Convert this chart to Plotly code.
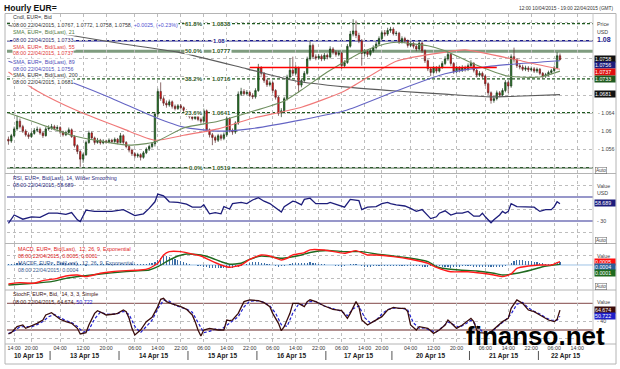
import plotly.graph_objects as go
from datetime import datetime, timedelta

# ---------------- time base (hourly bars, weekend removed) ----------------
sessions = [("2015-04-10 12:00", "2015-04-10 22:00"),
            ("2015-04-12 21:00", "2015-04-17 22:00"),
            ("2015-04-19 21:00", "2015-04-22 19:00")]
bar_times = []
for a, b in sessions:
    t = datetime.strptime(a, "%Y-%m-%d %H:%M")
    e = datetime.strptime(b, "%Y-%m-%d %H:%M")
    while t <= e:
        bar_times.append(t)
        t += timedelta(hours=1)
pos = {t.strftime("%m-%d %H:%M"): i for i, t in enumerate(bar_times)}

tick_times = ["04-10 14:00", "04-10 20:00", "04-13 04:00", "04-13 12:00", "04-13 20:00",
              "04-14 06:00", "04-14 14:00", "04-14 22:00", "04-15 06:00", "04-15 14:00",
              "04-15 22:00", "04-16 06:00", "04-16 14:00", "04-16 22:00", "04-17 06:00",
              "04-17 14:00", "04-17 20:00", "04-20 04:00", "04-20 12:00", "04-20 20:00",
              "04-21 06:00", "04-21 14:00", "04-21 22:00", "04-22 06:00", "04-22 14:00"]
day_starts = ["04-13 00:00", "04-14 00:00", "04-15 00:00", "04-16 00:00", "04-17 00:00",
              "04-19 21:00", "04-21 00:00", "04-22 00:00"]
day_labels = ["10 Apr 15", "13 Apr 15", "14 Apr 15", "15 Apr 15", "16 Apr 15",
              "17 Apr 15", "20 Apr 15", "21 Apr 15", "22 Apr 15"]

# ---------------- price candles (EUR=, hourly) ----------------
open_ = [1.0582, 1.0578, 1.0590, 1.0605, 1.0622, 1.0610, 1.0600, 1.0592, 1.0588, 1.0595,
         1.0602, 1.0604, 1.0596, 1.0590, 1.0605, 1.0607, 1.0610, 1.0606, 1.0608, 1.0598,
         1.0592, 1.0597, 1.0603, 1.0588, 1.0568, 1.0555, 1.0538, 1.0548, 1.0575, 1.0596,
         1.0585, 1.0575, 1.0580, 1.0574, 1.0578, 1.0576, 1.0580, 1.0577, 1.0582, 1.0575,
         1.0590, 1.0575, 1.0566, 1.0558, 1.0550, 1.0545, 1.0548, 1.0542, 1.0552, 1.0560,
         1.0566, 1.0572, 1.0638, 1.0688, 1.0672, 1.0662, 1.0658, 1.0665, 1.0655, 1.0650,
         1.0656, 1.0652, 1.0646, 1.0636, 1.0632, 1.0628, 1.0633, 1.0626, 1.0622, 1.0645,
         1.0603, 1.0592, 1.0586, 1.0580, 1.0590, 1.0584, 1.0592, 1.0628, 1.0602, 1.0598,
         1.0618, 1.0682, 1.0688, 1.0683, 1.0686, 1.0679, 1.0676, 1.0690, 1.0740, 1.0728,
         1.0712, 1.0703, 1.0707, 1.0690, 1.0675, 1.0640, 1.0645, 1.0672, 1.0720, 1.0735,
         1.0728, 1.0740, 1.0702, 1.0712, 1.0728, 1.0760, 1.0790, 1.0765, 1.0762, 1.0766,
         1.0760, 1.0768, 1.0764, 1.0782, 1.0775, 1.0770, 1.0773, 1.0745, 1.0752, 1.0788,
         1.0815, 1.0822, 1.0812, 1.0800, 1.0772, 1.0776, 1.0770, 1.0778, 1.0785, 1.0793,
         1.0805, 1.0818, 1.0815, 1.0823, 1.0826, 1.0816, 1.0817, 1.0798, 1.0805, 1.0800,
         1.0790, 1.0794, 1.0788, 1.0782, 1.0795, 1.0778, 1.0756, 1.0738, 1.0730, 1.0740,
         1.0733, 1.0742, 1.0750, 1.0760, 1.0770, 1.0750, 1.0732, 1.0740, 1.0735, 1.0741,
         1.0737, 1.0745, 1.0750, 1.0735, 1.0724, 1.0728, 1.0722, 1.0705, 1.0685, 1.0668,
         1.0672, 1.0685, 1.0680, 1.0690, 1.0708, 1.0700, 1.0765, 1.0758, 1.0745, 1.0742,
         1.0737, 1.0740, 1.0736, 1.0738, 1.0733, 1.0737, 1.0728, 1.0722, 1.0725, 1.0730,
         1.0734, 1.0740, 1.0767]
high = [1.0588, 1.0594, 1.0610, 1.0634, 1.0628, 1.0614, 1.0604, 1.0597, 1.0599, 1.0607,
        1.0610, 1.0608, 1.0600, 1.0609, 1.0613, 1.0616, 1.0614, 1.0613, 1.0611, 1.0601,
        1.0601, 1.0608, 1.0606, 1.0591, 1.0571, 1.0558, 1.0552, 1.0579, 1.0601, 1.0599,
        1.0588, 1.0585, 1.0583, 1.0582, 1.0581, 1.0584, 1.0583, 1.0586, 1.0585, 1.0596,
        1.0593, 1.0578, 1.0569, 1.0561, 1.0553, 1.0552, 1.0551, 1.0556, 1.0564, 1.0570,
        1.0576, 1.0642, 1.0694, 1.0708, 1.0677, 1.0668, 1.0670, 1.0668, 1.0659, 1.0660,
        1.0660, 1.0655, 1.0649, 1.0640, 1.0636, 1.0637, 1.0636, 1.0630, 1.0650, 1.0648,
        1.0606, 1.0596, 1.0590, 1.0594, 1.0594, 1.0597, 1.0634, 1.0631, 1.0606, 1.0622,
        1.0688, 1.0696, 1.0693, 1.0691, 1.0690, 1.0684, 1.0695, 1.0749, 1.0744, 1.0731,
        1.0716, 1.0712, 1.0710, 1.0693, 1.0678, 1.0651, 1.0676, 1.0725, 1.0762, 1.0765,
        1.0746, 1.0743, 1.0717, 1.0733, 1.0765, 1.0799, 1.0794, 1.0770, 1.0771, 1.0770,
        1.0773, 1.0772, 1.0788, 1.0786, 1.0779, 1.0778, 1.0776, 1.0757, 1.0793, 1.0822,
        1.0848, 1.0845, 1.0818, 1.0804, 1.0782, 1.0780, 1.0783, 1.0790, 1.0798, 1.0810,
        1.0823, 1.0824, 1.0829, 1.0831, 1.0830, 1.0822, 1.0820, 1.0810, 1.0809, 1.0803,
        1.0799, 1.0798, 1.0792, 1.0800, 1.0798, 1.0781, 1.0759, 1.0742, 1.0745, 1.0744,
        1.0747, 1.0755, 1.0766, 1.0776, 1.0773, 1.0753, 1.0745, 1.0744, 1.0746, 1.0745,
        1.0750, 1.0757, 1.0753, 1.0738, 1.0733, 1.0732, 1.0725, 1.0708, 1.0688, 1.0678,
        1.0690, 1.0689, 1.0695, 1.0713, 1.0712, 1.0770, 1.0785, 1.0762, 1.0750, 1.0747,
        1.0745, 1.0744, 1.0743, 1.0742, 1.0741, 1.0740, 1.0731, 1.0729, 1.0734, 1.0738,
        1.0745, 1.0775, 1.0772]
low = [1.0570, 1.0574, 1.0586, 1.0601, 1.0606, 1.0596, 1.0588, 1.0583, 1.0585, 1.0592,
       1.0598, 1.0592, 1.0585, 1.0588, 1.0601, 1.0603, 1.0602, 1.0603, 1.0594, 1.0588,
       1.0589, 1.0594, 1.0585, 1.0564, 1.0549, 1.0521, 1.0530, 1.0545, 1.0572, 1.0581,
       1.0570, 1.0572, 1.0570, 1.0571, 1.0572, 1.0573, 1.0573, 1.0574, 1.0571, 1.0573,
       1.0571, 1.0562, 1.0553, 1.0545, 1.0540, 1.0541, 1.0535, 1.0539, 1.0549, 1.0556,
       1.0562, 1.0566, 1.0632, 1.0667, 1.0656, 1.0652, 1.0654, 1.0650, 1.0646, 1.0647,
       1.0648, 1.0642, 1.0632, 1.0628, 1.0624, 1.0625, 1.0622, 1.0617, 1.0619, 1.0598,
       1.0586, 1.0569, 1.0574, 1.0576, 1.0579, 1.0580, 1.0588, 1.0597, 1.0592, 1.0594,
       1.0614, 1.0678, 1.0679, 1.0679, 1.0675, 1.0671, 1.0672, 1.0687, 1.0723, 1.0707,
       1.0698, 1.0699, 1.0685, 1.0670, 1.0634, 1.0631, 1.0641, 1.0668, 1.0716, 1.0722,
       1.0724, 1.0686, 1.0697, 1.0708, 1.0725, 1.0756, 1.0760, 1.0757, 1.0758, 1.0755,
       1.0756, 1.0759, 1.0761, 1.0770, 1.0765, 1.0766, 1.0738, 1.0740, 1.0749, 1.0785,
       1.0810, 1.0806, 1.0795, 1.0745, 1.0766, 1.0764, 1.0766, 1.0774, 1.0781, 1.0789,
       1.0801, 1.0810, 1.0811, 1.0818, 1.0812, 1.0811, 1.0793, 1.0794, 1.0795, 1.0785,
       1.0786, 1.0783, 1.0777, 1.0779, 1.0773, 1.0751, 1.0733, 1.0722, 1.0727, 1.0728,
       1.0730, 1.0738, 1.0746, 1.0756, 1.0745, 1.0727, 1.0728, 1.0730, 1.0731, 1.0732,
       1.0733, 1.0741, 1.0730, 1.0719, 1.0720, 1.0717, 1.0700, 1.0680, 1.0661, 1.0663,
       1.0668, 1.0675, 1.0676, 1.0686, 1.0684, 1.0696, 1.0752, 1.0740, 1.0737, 1.0733,
       1.0733, 1.0731, 1.0732, 1.0729, 1.0729, 1.0724, 1.0717, 1.0718, 1.0721, 1.0726,
       1.0731, 1.0737, 1.0758]
close = [1.0578, 1.0590, 1.0605, 1.0622, 1.0610, 1.0600, 1.0592, 1.0588, 1.0595, 1.0602,
         1.0604, 1.0596, 1.0590, 1.0605, 1.0607, 1.0610, 1.0606, 1.0608, 1.0598, 1.0592,
         1.0597, 1.0603, 1.0588, 1.0568, 1.0555, 1.0538, 1.0548, 1.0575, 1.0596, 1.0585,
         1.0575, 1.0580, 1.0574, 1.0578, 1.0576, 1.0580, 1.0577, 1.0582, 1.0575, 1.0590,
         1.0575, 1.0566, 1.0558, 1.0550, 1.0545, 1.0548, 1.0542, 1.0552, 1.0560, 1.0566,
         1.0572, 1.0638, 1.0688, 1.0672, 1.0662, 1.0658, 1.0665, 1.0655, 1.0650, 1.0656,
         1.0652, 1.0646, 1.0636, 1.0632, 1.0628, 1.0633, 1.0626, 1.0622, 1.0645, 1.0603,
         1.0592, 1.0586, 1.0580, 1.0590, 1.0584, 1.0592, 1.0628, 1.0602, 1.0598, 1.0618,
         1.0682, 1.0688, 1.0683, 1.0686, 1.0679, 1.0676, 1.0690, 1.0740, 1.0728, 1.0712,
         1.0703, 1.0707, 1.0690, 1.0675, 1.0640, 1.0645, 1.0672, 1.0720, 1.0735, 1.0728,
         1.0740, 1.0702, 1.0712, 1.0728, 1.0760, 1.0790, 1.0765, 1.0762, 1.0766, 1.0760,
         1.0768, 1.0764, 1.0782, 1.0775, 1.0770, 1.0773, 1.0745, 1.0752, 1.0788, 1.0815,
         1.0822, 1.0812, 1.0800, 1.0772, 1.0776, 1.0770, 1.0778, 1.0785, 1.0793, 1.0805,
         1.0818, 1.0815, 1.0823, 1.0826, 1.0816, 1.0817, 1.0798, 1.0805, 1.0800, 1.0790,
         1.0794, 1.0788, 1.0782, 1.0795, 1.0778, 1.0756, 1.0738, 1.0730, 1.0740, 1.0733,
         1.0742, 1.0750, 1.0760, 1.0770, 1.0750, 1.0732, 1.0740, 1.0735, 1.0741, 1.0737,
         1.0745, 1.0750, 1.0735, 1.0724, 1.0728, 1.0722, 1.0705, 1.0685, 1.0668, 1.0672,
         1.0685, 1.0680, 1.0690, 1.0708, 1.0700, 1.0765, 1.0758, 1.0745, 1.0742, 1.0737,
         1.0740, 1.0736, 1.0738, 1.0733, 1.0737, 1.0728, 1.0722, 1.0725, 1.0730, 1.0734,
         1.0740, 1.0767, 1.0758]

# ---------------- moving averages (read at sample bars) ----------------
sma21_bars = [0, 10, 22, 32, 42, 51, 61, 73, 84, 96, 102, 111, 123, 131, 135, 146, 152, 162, 174, 185, 192]
sma21 = [1.0640, 1.0618, 1.0591, 1.0578, 1.0569, 1.0576, 1.0607, 1.0622, 1.0642, 1.0667, 1.0691,
         1.0731, 1.0775, 1.0793, 1.0797, 1.0789, 1.0778, 1.0749, 1.0722, 1.0720, 1.0733]
sma55_bars = [0, 10, 24, 40, 51, 61, 73, 84, 102, 117, 135, 152, 159, 179, 192]
sma55 = [1.0731, 1.0689, 1.0645, 1.0605, 1.0580, 1.0591, 1.0605, 1.0627, 1.0653, 1.0689,
         1.0755, 1.0775, 1.0780, 1.0755, 1.0737]
sma89_bars = [0, 16, 34, 51, 61, 73, 84, 102, 117, 135, 152, 168, 192]
sma89 = [1.0755, 1.0722, 1.0678, 1.0631, 1.0609, 1.0600, 1.0605, 1.0625, 1.0645, 1.0689,
         1.0727, 1.0744, 1.0756]
sma200_bars = [0, 21, 39, 59, 83, 100, 117, 135, 152, 168, 179, 192]
sma200 = [1.0834, 1.0813, 1.0794, 1.0775, 1.0738, 1.0711, 1.0698, 1.0689, 1.0682, 1.0676,
          1.0678, 1.0681]

fib_levels = [1.0838, 1.0777, 1.0716, 1.0641, 1.0519]
fib_pcts = ["61.8%", "50.0%", "38.2%", "23.6%", "0.0%"]
round_level = 1.08
red_level = 1.0741
red_span = [84, 170]
price_ticks = [1.052, 1.056, 1.060, 1.064, 1.068, 1.072, 1.076, 1.080, 1.084]
price_tick_text = ["", "1.056", "1.06", "1.064", "", "", "", "", ""]

# ---------------- RSI (14, Wilder) ----------------
rsi_bars = [0, 2, 5, 8, 11, 14, 17, 20, 22, 24, 25, 27, 30, 33, 36, 40, 42, 44, 47, 49,
            51, 52, 54, 56, 59, 62, 64, 67, 68, 70, 72, 74, 75, 77, 78, 81, 83, 85, 87, 89,
            91, 93, 95, 96, 99, 100, 102, 103, 105, 107, 111, 112, 114, 117, 119, 121, 122, 123, 125, 128,
            130, 132, 133, 135, 138, 140, 141, 142, 144, 146, 147, 149, 150, 152, 154, 156, 158, 160, 162, 164,
            165, 166, 167, 168, 169, 171, 172, 173, 174, 175, 177, 180, 183, 185, 187, 189, 190, 191, 192]
rsi_vals = [26, 40, 33, 37, 36, 43, 43, 41, 44, 32, 29, 48, 46, 46, 46, 49, 44, 39, 42, 51,
            62, 75, 72, 62, 61, 58, 53, 53, 57, 42, 44, 42, 54, 50, 59, 61, 59, 65, 69, 63,
            59, 52, 45, 54, 63, 62, 57, 66, 68, 59, 59, 61, 58, 53, 66, 65, 64, 49, 53, 54,
            59, 61, 59, 57, 55, 51, 48, 46, 49, 40, 34, 37, 43, 47, 40, 43, 43, 46, 38, 38,
            43, 37, 32, 27, 32, 40, 46, 43, 46, 59, 54, 53, 53, 46, 49, 49, 54, 62, 58.7]

# ---------------- MACD (12, 26, 9) in units of 1e-4 ----------------
macd_bars = [0, 4, 9, 12, 17, 20, 24, 27, 32, 36, 41, 46, 49, 52, 54, 56, 60, 63, 67, 70,
             74, 77, 81, 84, 88, 91, 95, 97, 99, 103, 105, 110, 117, 121, 125, 128, 134, 140, 146, 149,
             154, 160, 165, 169, 172, 175, 177, 181, 185, 189, 191, 192]
macd_e4 = [-28.8, -26.8, -27.7, -23.8, -20.2, -16.7, -15.2, -17.7, -12.6, -10.2,
           -8.6, -7.6, -5.0, 2.6, 15.2, 20.2, 20.2, 17.7, 13.6, 7.6,
           0.0, -3.5, 0.0, 8.6, 15.2, 13.6, 7.6, 10.2, 15.2, 18.6,
           23.0, 22.7, 17.7, 21.7, 15.2, 15.2, 12.6, 8.6, 2.6, -3.5,
           -10.2, -10.2, -12.6, -15.2, -17.7, -13.6, -5.0, -1.5, 0.0, 0.0, 3.5, 5.0]
signal_bars = [0, 4, 9, 15, 20, 26, 32, 38, 44, 49, 52, 55, 59, 62, 67, 70, 74, 77, 81, 84,
               88, 91, 95, 98, 102, 105, 111, 117, 123, 128, 134, 140, 146, 149, 151, 157, 163, 169, 172, 177,
               182, 186, 192]
signal_e4 = [-30.3, -29.2, -27.7, -25.3, -20.2, -16.7, -13.6, -11.1, -9.1, -7.6,
             -2.6, 5.0, 13.6, 16.7, 15.2, 11.7, 5.0, 1.1, 2.6, 8.6,
             13.6, 12.6, 10.2, 11.7, 15.2, 19.0, 22.0, 20.2, 20.2, 16.7,
             13.6, 10.2, 5.0, -2.6, -5.0, -7.6, -9.1, -12.6, -15.2, -12.6,
             -7.6, -2.6, 1.0]
hist_e4 = [1.5, 2, 2.2, 2.4, 2.4, 2, 1.5, 1, 0.5, 0.2,
           0.5, 1, 1.3, 1.5, 1.5, 1.6, 1.8, 2, 2.3, 2.8,
           3.4, 3.5, 3.4, 3.2, 3, 1.5, 0, -1, -0.5, 0,
           0.5, 0.8, 1, 1.1, 1.2, 1.3, 1.3, 1.3, 1.4, 1.6,
           1.5, 1.4, 1.2, 1, 0.9, 0.8, 0.8, 1.2, 1.8, 2.6,
           3, 5, 8, 11, 13, 13, 12, 10, 8.5, 7,
           5.7, 4, 2.5, 1.2, 0.5, -0.3, -1, -1.6, -2.5, -3.3,
           -4, -4.5, -5, -5.2, -5, -5, -4.8, -4.6, -4, -3.5,
           -2.6, -1, 0.5, 2, 3, 4, 4.5, 4.5, 3.5, 2.5,
           1.5, 1, 0, -1.5, -2.6, -2, -0.8, 0.5, 1.8, 2.7,
           3, 3, 3, 3.2, 3.6, 4, 3.5, 3, 2.2, 1.5,
           1, 0.5, 0, -0.5, -1.2, -2, -2.5, -2.2, -0.5, 1,
           1.5, 1.5, 0, -2, -3.5, -3.8, -3, -2, -1.5, -1.2,
           -1, -0.8, -0.8, -1, -1, -1, -1.2, -1.4, -1.5, -1.6,
           -1.6, -1.8, -2, -2.2, -2.4, -2.4, -2.4, -2, -1.5, -1,
           -1.5, -2.5, -3.2, -3.8, -4, -3.6, -3, -2.5, -2.2, -2,
           -2, -2.2, -2.4, -2.6, -2.6, -2.6, -2.6, -2.6, -2.6, -2.6,
           -2.6, -2.6, -2.5, -1.5, 0.4, 3, 5.5, 7.6, 7.5, 7,
           6.8, 6.5, 5.5, 4.5, 4, 3.5, 2.8, 2, 1.5, 1,
           1.8, 3, 4]

# ---------------- Fast stochastic (14, 3, 3) ----------------
k_bars = [0, 1, 3, 5, 6, 8, 10, 12, 13, 15, 17, 18, 20, 22, 24, 25, 27, 28, 30, 31,
          33, 34, 37, 38, 40, 41, 42, 43, 44, 46, 48, 50, 52, 53, 54, 55, 57, 60, 62, 64,
          65, 66, 67, 68, 70, 73, 75, 76, 77, 78, 80, 82, 84, 87, 89, 91, 92, 94, 95, 96,
          98, 99, 101, 103, 104, 105, 107, 110, 113, 116, 118, 119, 121, 122, 123, 125, 127, 130, 132, 134,
          136, 138, 139, 140, 142, 143, 146, 148, 150, 152, 153, 155, 156, 158, 161, 162, 163, 164, 167, 168,
          170, 172, 174, 175, 177, 179, 181, 183, 185, 188, 190, 191, 192]
k_vals = [11, 14, 27.5, 31.3, 23.8, 29, 35, 42.5, 53.8, 59, 48.6, 44.1, 38.8, 35, 23.8, 11, 14, 31.3, 57.5, 63.5,
          57.5, 53.8, 56, 57.5, 65, 61.3, 46.3, 23.8, 8.7, 20, 38.8, 48.6, 72.5, 89, 91.3, 83.8, 78.6, 72.5, 66.6, 53.8,
          38.8, 20, 6.5, 20, 23.8, 20, 20, 42.5, 41, 42.5, 57.5, 83.8, 87.6, 86, 81.5, 72.5, 57.5, 35, 18.5, 27.5,
          57.5, 80, 80, 72.5, 83.8, 88, 83.8, 74, 66.6, 63.5, 46.3, 57.5, 83.8, 72.5, 42.5, 31.3, 38.8, 50, 65, 71,
          68.8, 68.8, 61.3, 31.3, 20, 27.5, 23.8, 12.5, 20, 31.3, 42.5, 31.3, 23.8, 31.3, 46.3, 38.8, 20, 14, 12.5, 16.3,
          27.5, 38.8, 46.3, 68.8, 87.6, 80, 65, 61.3, 53.8, 42.5, 38.8, 44, 64.7]
d_bars = [0, 2, 4, 6, 8, 10, 12, 14, 16, 18, 20, 22, 24, 26, 28, 30, 32, 34, 36, 38,
          40, 42, 44, 46, 48, 50, 52, 54, 56, 58, 60, 62, 64, 66, 68, 70, 72, 74, 76, 78,
          80, 82, 84, 87, 89, 91, 93, 95, 97, 99, 101, 103, 105, 107, 110, 113, 116, 118, 120, 122,
          124, 126, 128, 130, 132, 134, 137, 139, 141, 143, 145, 147, 149, 151, 153, 155, 157, 159, 161, 163,
          165, 167, 169, 171, 173, 175, 177, 179, 181, 183, 185, 187, 189, 191, 192]
d_vals = [12, 18, 27, 28, 27, 32, 39, 50, 55, 48, 41, 37, 28, 15, 20, 45, 60, 56, 55, 57,
          62, 55, 28, 14, 28, 42, 68, 87, 85, 76, 71, 67, 60, 38, 14, 17, 22, 21, 30, 40,
          50, 72, 85, 86, 82, 74, 58, 32, 28, 58, 78, 76, 84, 84, 74, 68, 62, 52, 68, 74,
          48, 36, 42, 56, 66, 69, 69, 65, 36, 24, 25, 18, 16, 26, 38, 32, 26, 33, 42, 30,
          16, 13, 20, 32, 42, 56, 78, 82, 70, 62, 56, 48, 42, 42, 50.7]

assert len(open_) == len(high) == len(low) == len(close) == len(hist_e4)
assert len(rsi_bars) == len(rsi_vals) and len(k_bars) == len(k_vals) and len(d_bars) == len(d_vals)
assert len(macd_bars) == len(macd_e4) and len(signal_bars) == len(signal_e4)

bars = list(range(len(close)))
NB = len(bar_times)
XR = [-0.5, NB - 0.5]
FONT = "Liberation Sans, Arial, sans-serif"

# ---------------- layout geometry (pixel -> paper) ----------------
TOP, BOT, LEFT, RIGHT = 14, 344, 7, 593
def py(y):
    return (BOT - y) / (BOT - TOP)
def px(x):
    return (x - LEFT) / (RIGHT - LEFT)

fig = go.Figure()

# price panel
fig.add_trace(go.Candlestick(
    x=bars, open=open_, high=high, low=low, close=close, xaxis="x", yaxis="y",
    increasing=dict(line=dict(color="#1b3a1b", width=0.7), fillcolor="#1f7f1f"),
    decreasing=dict(line=dict(color="#5a2a2a", width=0.7), fillcolor="#ff1010"),
    whiskerwidth=0, hoverinfo="skip"))
for xs, ys, col in [(sma200_bars, sma200, "#5c5c5c"), (sma89_bars, sma89, "#6464c4"),
                    (sma55_bars, sma55, "#f07878"), (sma21_bars, sma21, "#6f8f5f")]:
    fig.add_trace(go.Scatter(x=xs, y=ys, mode="lines", xaxis="x", yaxis="y",
                             line=dict(color=col, width=1.1, shape="spline", smoothing=0.6),
                             hoverinfo="skip"))

# RSI panel
fig.add_trace(go.Scatter(x=rsi_bars, y=rsi_vals, mode="lines", xaxis="x2", yaxis="y2",
                         line=dict(color="#1c1c7a", width=1.3), hoverinfo="skip"))
# MACD panel
fig.add_trace(go.Bar(x=bars, y=[h * 1e-4 for h in hist_e4], xaxis="x3", yaxis="y3",
                     marker=dict(color="#3c6ea6", line=dict(width=0)), width=0.4, hoverinfo="skip"))
fig.add_trace(go.Scatter(x=signal_bars, y=[v * 1e-4 for v in signal_e4], mode="lines", xaxis="x3", yaxis="y3",
                         line=dict(color="#1f6a1f", width=1.4, shape="spline", smoothing=0.5), hoverinfo="skip"))
fig.add_trace(go.Scatter(x=macd_bars, y=[v * 1e-4 for v in macd_e4], mode="lines", xaxis="x3", yaxis="y3",
                         line=dict(color="#ff1a1a", width=1.4, shape="spline", smoothing=0.5), hoverinfo="skip"))
# Stochastic panel
fig.add_trace(go.Scatter(x=d_bars, y=d_vals, mode="lines", xaxis="x4", yaxis="y4",
                         line=dict(color="#2020d0", width=1.2, dash="3px,2px"), hoverinfo="skip"))
fig.add_trace(go.Scatter(x=k_bars, y=k_vals, mode="lines", xaxis="x4", yaxis="y4",
                         line=dict(color="#3a0c0c", width=1.3), hoverinfo="skip"))

tickvals = [pos[t] for t in tick_times]
ticktext = [t[-5:] for t in tick_times]
grid = dict(showgrid=True, gridcolor="#bdbdbd", griddash="dot", gridwidth=1, zeroline=False,
            showline=False, ticks="", fixedrange=True)
xcommon = dict(range=XR, tickvals=tickvals, ticktext=ticktext, domain=[0, 1], **grid)
fig.update_layout(
    xaxis=dict(anchor="y", showticklabels=False, rangeslider=dict(visible=False), **xcommon),
    xaxis2=dict(anchor="y2", showticklabels=False, **xcommon),
    xaxis3=dict(anchor="y3", showticklabels=False, **xcommon),
    xaxis4=dict(anchor="y4", showticklabels=True, tickfont=dict(size=5.3, color="#333"), **xcommon),
    yaxis=dict(domain=[py(173), 1], range=[1.05073, 1.08595], tickvals=price_ticks,
               showticklabels=False, **grid),
    yaxis2=dict(domain=[py(243), py(175)], range=[-6.7, 106.7], tickvals=[10, 50, 90],
                showticklabels=False, **grid),
    yaxis3=dict(domain=[py(290), py(244)], range=[-0.00379, 0.00318], tickvals=[-0.002, 0.0015],
                showticklabels=False, **grid),
    yaxis4=dict(domain=[0, py(291)], range=[-11.5, 107.8], tickvals=[0, 40],
                showticklabels=False, **grid),
    width=620, height=369, margin=dict(l=LEFT, r=620 - RIGHT, t=TOP, b=369 - BOT),
    paper_bgcolor="white", plot_bgcolor="white", showlegend=False,
    font=dict(family=FONT, size=5.3, color="#333"), bargap=0,
)

shapes = []
# fibonacci & levels
fib_styles = [dict(color="#1f5a1f", width=1.2, dash="3px,2px"),
              dict(color="#7f9c7f", width=3.2),
              dict(color="#1f5a1f", width=1.2, dash="3px,2px"),
              dict(color="#1f5a1f", width=1.2, dash="3px,2px"),
              dict(color="#2e5a2e", width=1.6)]
for lv, st in zip(fib_levels, fib_styles):
    shapes.append(dict(type="line", xref="paper", yref="y", x0=0, x1=1, y0=lv, y1=lv, line=st, layer="below"))
shapes.append(dict(type="line", xref="paper", yref="y", x0=0, x1=1, y0=round_level, y1=round_level,
                   line=dict(color="#1c1c8c", width=1.5), layer="below"))
shapes.append(dict(type="line", xref="x", yref="y", x0=red_span[0], x1=red_span[1], y0=red_level, y1=red_level,
                   line=dict(color="#ff0000", width=1.5)))
# indicator guide lines
for v in (70, 30):
    shapes.append(dict(type="line", xref="paper", yref="y2", x0=0, x1=1, y0=v, y1=v,
                       line=dict(color="#7474b8", width=1.4), layer="below"))
for v in (80, 20):
    shapes.append(dict(type="line", xref="paper", yref="y4", x0=0, x1=1, y0=v, y1=v,
                       line=dict(color="#9a6c6c", width=1.4), layer="below"))
shapes.append(dict(type="line", xref="paper", yref="y3", x0=0, x1=1, y0=0, y1=0,
                   line=dict(color="#9fc3e6", width=1), layer="below"))
# frame and panel separators
XL, XRp = px(5), px(616)
for yy in (13.5, 173.5, 243.5, 290, 344):
    shapes.append(dict(type="line", xref="paper", yref="paper", x0=XL, x1=XRp, y0=py(yy), y1=py(yy),
                       line=dict(color="#b4b4b4", width=1)))
shapes.append(dict(type="line", xref="paper", yref="paper", x0=XL, x1=XL, y0=py(364), y1=py(13.5),
                   line=dict(color="#b4b4b4", width=1)))
shapes.append(dict(type="line", xref="paper", yref="paper", x0=XRp, x1=XRp, y0=py(364), y1=py(13.5),
                   line=dict(color="#b4b4b4", width=1)))
shapes.append(dict(type="line", xref="paper", yref="paper", x0=1, x1=1, y0=py(344), y1=py(13.5),
                   line=dict(color="#c8c8c8", width=1)))
shapes.append(dict(type="line", xref="paper", yref="paper", x0=XL, x1=XRp, y0=py(364), y1=py(364),
                   line=dict(color="#b4b4b4", width=1)))
# day separators
seps = [pos[d] + 0.5 for d in day_starts]
for s in seps:
    shapes.append(dict(type="line", xref="x4", yref="paper", x0=s, x1=s, y0=py(351), y1=py(360),
                       line=dict(color="#555", width=1)))

ann = []
def txt(x, y, s, size=5.3, color="#333", anchor="left", bold=False, bg=None, **kw):
    d = dict(xref="paper", yref="paper", x=x, y=y, text=("<b>%s</b>" % s) if bold else s,
             showarrow=False, xanchor=anchor, yanchor="middle",
             font=dict(family=FONT, size=size, color=color), borderpad=0)
    if bg:
        d["bgcolor"] = bg
    d.update(kw)
    ann.append(d)

# title bar
txt(px(3), py(8), "Hourly EUR=", size=8.6, color="#111", bold=True)
txt(px(615), py(8), "12:00 10/04/2015 - 19:00 22/04/2015 (GMT)", size=4.8, color="#333", anchor="right")

# price legend
L0 = px(12)
txt(L0, py(17.3), "Cndl, EUR=, Bid", color="#333", bg="white")
txt(L0, py(25), "08:00 22/04/2015, 1.0767, 1.0772, 1.0758, 1.0758, "
                "<span style='color:#5050d0'>+0.0025, (+0.23%)</span>", color="#333", bg="white")
txt(L0, py(32.3), "SMA, EUR=, Bid(Last), 21", color="#4f7a3f", bg="white")
txt(L0, py(40), "08:00 22/04/2015, 1.0733", color="#2a2a6a", bg="white")
txt(L0, py(46.7), "SMA, EUR=, Bid(Last), 55", color="#e03a3a", bg="white")
txt(L0, py(53.3), "08:00 22/04/2015, 1.0737", color="#e03a3a", bg="white")
txt(L0, py(61.7), "SMA, EUR=, Bid(Last), 89", color="#4a4ab8", bg="white")
txt(L0, py(68.7), "08:00 22/04/2015, 1.0756", color="#4a4ab8", bg="white")
txt(L0, py(75.3), "SMA, EUR=, Bid(Last), 200", color="#333", bg="white")
txt(L0, py(81.7), "08:00 22/04/2015, 1.0681", color="#333", bg="white")

# fibonacci labels
for lv, p in zip(fib_levels, fib_pcts):
    ann.append(dict(xref="paper", yref="y", x=px(203.5), y=lv, text="<b>%s</b>" % p, showarrow=False,
                    xanchor="right", yanchor="middle", bgcolor="white", borderpad=0,
                    font=dict(family=FONT, size=6, color="#2f5a1f")))
    ann.append(dict(xref="paper", yref="y", x=px(211), y=lv, text="<b>%.4f</b>" % lv, showarrow=False,
                    xanchor="left", yanchor="middle", bgcolor="white", borderpad=0,
                    font=dict(family=FONT, size=6, color="#2f5a1f")))
ann.append(dict(xref="paper", yref="y", x=px(212), y=round_level, text="<b>1.08</b>", showarrow=False,
                xanchor="left", yanchor="middle", bgcolor="white", borderpad=0,
                font=dict(family=FONT, size=6, color="#1c1c8c")))

# right-hand price scale
RX = px(596)
BX = px(594)
txt(RX, py(24.3), "Price", color="#444")
txt(RX, py(32.3), "USD", color="#444")
txt(RX, py(40), "1.08", size=7, color="#1c1c8c", bold=True)
for yv, s, c in [(58.5, "1.0758", "#111111"), (65, "1.0756", "#1c1c7c"), (72, "1.0737", "#e01010"),
                 (79, "1.0733", "#1e5a1e"), (94.5, "1.0681", "#111111")]:
    txt(BX, py(yv), s, color="white", bg=c, width=20, align="left")
for v, s in zip(price_ticks, price_tick_text):
    if s:
        ann.append(dict(xref="paper", yref="y", x=RX, y=v, text="- " + s, showarrow=False, xanchor="left",
                        yanchor="middle", font=dict(family=FONT, size=5.3, color="#444")))
for yv in (170, 240, 286):
    txt(px(595), py(yv), "Auto", size=4.8, color="#444", bordercolor="#777", borderwidth=0.6, borderpad=0.5)

# RSI legend & scale
txt(L0, py(178), "RSI, EUR=, Bid(Last), 14, Wilder Smoothing", color="#2a2a80")
txt(L0, py(185), "08:00 22/04/2015, 58.689", color="#2a2a80")
txt(RX, py(186), "Value", color="#444")
txt(RX, py(193), "USD", color="#444")
txt(BX, py(203), "58.689", color="white", bg="#1c1c7c", width=20, align="left")
txt(RX, py(221), "- 30", color="#444")

# MACD legend & scale
txt(px(17), py(249), "MACD, EUR=, Bid(Last),  12, 26, 9, Exponential", color="#e02020")
txt(px(17), py(255.7), "08:00 22/04/2015, 0.0005, 0.0001", color="#e02020")
txt(px(17), py(262.7), "MACDF, EUR=, Bid(Last),  12, 26, 9, Exponential", color="#3a5a90")
txt(px(17), py(269.7), "08:00 22/04/2015, 0.0004", color="#3a5a90")
txt(RX, py(256), "Value", color="#444")
txt(BX, py(261.5), "0.0005", color="white", bg="#ff1010", width=20, align="left")
txt(BX, py(267), "0.0004", color="white", bg="#2a5f9a", width=20, align="left")
txt(BX, py(273), "0.0001", color="white", bg="#1e6a1e", width=20, align="left")

# Stochastic legend & scale
txt(L0, py(294), "StochF, EUR=, Bid,  14, 3, 3, Simple", color="#3a1010")
txt(L0, py(301.5), "08:00 22/04/2015, 64.674, <span style='color:#2020d0'>50.722</span>", color="#3a1010")
txt(RX, py(301.5), "Value", color="#444")
txt(BX, py(310), "64.674", color="white", bg="#3a0c0c", width=20, align="left")
txt(BX, py(316), "50.722", color="white", bg="#2020c8", width=20, align="left")
txt(RX, py(321), "- 40", color="#444")

# date labels
bounds = [-0.5] + seps + [NB - 0.5]
for i, lab in enumerate(day_labels):
    c = (bounds[i] + bounds[i + 1]) / 2
    ann.append(dict(xref="x4", yref="paper", x=c, y=py(356), text="<b>%s</b>" % lab, showarrow=False,
                    xanchor="center", yanchor="middle", font=dict(family=FONT, size=6.5, color="#222")))

# watermark
ann.append(dict(xref="paper", yref="paper", x=px(535.5), y=py(336), text="<b>finanso.net</b>", showarrow=False,
                xanchor="center", yanchor="middle", font=dict(family=FONT, size=26, color="#000000")))

fig.update_layout(shapes=shapes, annotations=ann)
fig.write_html("out.html", config={"displayModeBar": False, "staticPlot": True},
               post_script="document.body.style.margin='0';document.body.style.padding='0';")
